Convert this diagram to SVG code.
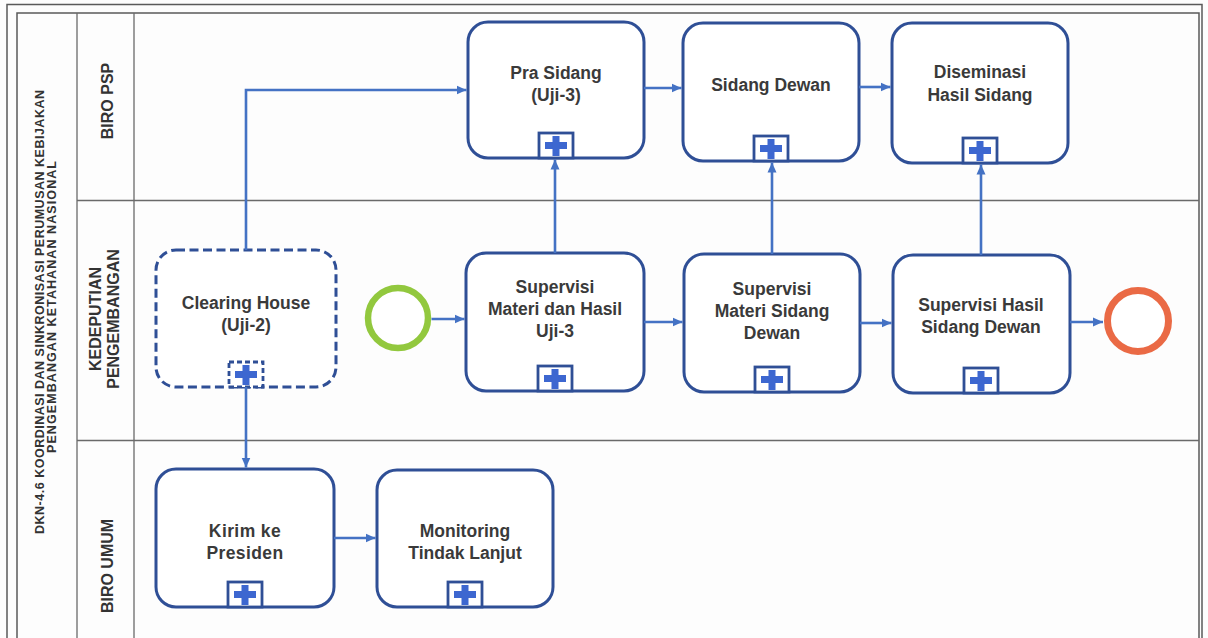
<svg xmlns="http://www.w3.org/2000/svg" width="1208" height="638" viewBox="0 0 1208 638">
<defs>
<style>
.frame{fill:none;stroke:#5a5a5a;stroke-width:1.5}
.lane{fill:none;stroke:#6a6a6a;stroke-width:1.3}
.task{fill:#ffffff;stroke:#2f4f96;stroke-width:3}
.dash{stroke-dasharray:9 4.5}
.mk{fill:#ffffff;stroke:#2f4f96;stroke-width:2.8}
.plus{fill:#3d67d0}
.lbl{font-family:"Liberation Sans",Arial,sans-serif;font-weight:bold;font-size:17.5px;fill:#3a3a3a;text-anchor:middle}
.lane-lbl{font-family:"Liberation Sans",Arial,sans-serif;font-weight:bold;font-size:16px;fill:#333333;text-anchor:middle}
.pool-lbl{font-family:"Liberation Sans",Arial,sans-serif;font-weight:bold;font-size:12.5px;fill:#333333;text-anchor:middle}
.conn{fill:none;stroke:#4472c4;stroke-width:2.6;marker-end:url(#arr)}
</style>
<marker id="arr" markerUnits="userSpaceOnUse" markerWidth="11" markerHeight="10" refX="10" refY="5" orient="auto">
<path d="M0,0.5 L10,5 L0,9.5 z" fill="#4472c4"/>
</marker>
<g id="plusmk">
<rect class="mk" x="-17" y="-25" width="34" height="25"/>
<rect class="plus" x="-11" y="-16" width="22" height="7"/>
<rect class="plus" x="-3.5" y="-22" width="7" height="20"/>
</g>
</defs>
<rect x="0" y="0" width="1208" height="638" fill="#fdfdfd"/>

<g id="pool">
<path class="frame" d="M7,645 V4.5 H1202 V645" stroke-width="2.2"/>
<path class="frame" d="M17,645 V13 H1199 V645"/>
<line class="lane" x1="77" y1="13" x2="77" y2="645"/>
<line class="lane" x1="134" y1="13" x2="134" y2="645"/>
<line class="lane" x1="77" y1="200.5" x2="1199" y2="200.5"/>
<line class="lane" x1="77" y1="440.5" x2="1199" y2="440.5"/>
<text class="pool-lbl" transform="translate(44,312) rotate(-90)" textLength="444" lengthAdjust="spacing">DKN-4.6 KOORDINASI DAN SINKRONISASI PERUMUSAN KEBIJAKAN</text>
<text class="pool-lbl" transform="translate(56,307) rotate(-90)" textLength="292" lengthAdjust="spacing">PENGEMBANGAN KETAHANAN  NASIONAL</text>
</g>

<g id="lane-biro-psp">
<text class="lane-lbl" transform="translate(113,101) rotate(-90)">BIRO PSP</text>
</g>
<g id="lane-kedeputian">
<text class="lane-lbl" transform="translate(101,319) rotate(-90)">KEDEPUTIAN</text>
<text class="lane-lbl" transform="translate(119,319) rotate(-90)">PENGEMBANGAN</text>
</g>
<g id="lane-biro-umum">
<text class="lane-lbl" transform="translate(113,566) rotate(-90)">BIRO UMUM</text>
</g>

<g id="pra-sidang">
<rect class="task" x="468" y="22" width="176" height="136" rx="20"/>
<text class="lbl" x="556" y="79">Pra Sidang</text>
<text class="lbl" x="556" y="101">(Uji-3)</text>
<use href="#plusmk" x="556" y="158"/>
</g>
<g id="sidang-dewan">
<rect class="task" x="683" y="23" width="176" height="138" rx="20"/>
<text class="lbl" x="771" y="91">Sidang Dewan</text>
<use href="#plusmk" x="771" y="161"/>
</g>
<g id="diseminasi">
<rect class="task" x="892" y="23" width="176" height="140" rx="20"/>
<text class="lbl" x="980" y="78">Diseminasi</text>
<text class="lbl" x="980" y="101">Hasil Sidang</text>
<use href="#plusmk" x="980" y="163"/>
</g>

<g id="clearing-house">
<rect class="task dash" x="156" y="250" width="180" height="137" rx="20"/>
<text class="lbl" x="246" y="309">Clearing House</text>
<text class="lbl" x="246" y="331">(Uji-2)</text>
<rect class="mk dash" x="229" y="362" width="34" height="25" style="stroke-dasharray:5 3"/>
<rect class="plus" x="235" y="371" width="22" height="7"/>
<rect class="plus" x="242.5" y="365" width="7" height="20"/>
</g>
<g id="start">
<circle cx="398" cy="318" r="30" fill="#ffffff" stroke="#92c83e" stroke-width="6.5"/>
</g>
<g id="supervisi-uji3">
<rect class="task" x="466" y="253" width="178" height="138" rx="20"/>
<text class="lbl" x="555" y="293">Supervisi</text>
<text class="lbl" x="555" y="315">Materi dan Hasil</text>
<text class="lbl" x="555" y="337">Uji-3</text>
<use href="#plusmk" x="555" y="391"/>
</g>
<g id="supervisi-materi-sidang">
<rect class="task" x="684" y="254" width="176" height="138" rx="20"/>
<text class="lbl" x="772" y="295">Supervisi</text>
<text class="lbl" x="772" y="317">Materi Sidang</text>
<text class="lbl" x="772" y="339">Dewan</text>
<use href="#plusmk" x="772" y="392"/>
</g>
<g id="supervisi-hasil-sidang">
<rect class="task" x="893" y="255" width="177" height="138" rx="20"/>
<text class="lbl" x="981" y="311">Supervisi Hasil</text>
<text class="lbl" x="981" y="333">Sidang Dewan</text>
<use href="#plusmk" x="981" y="393"/>
</g>
<g id="end">
<circle cx="1138" cy="321" r="30.5" fill="#ffffff" stroke="#ea6a45" stroke-width="7"/>
</g>

<g id="kirim-presiden">
<rect class="task" x="156" y="469" width="178" height="138" rx="20"/>
<text class="lbl" x="245" y="537" letter-spacing="0.4">Kirim  ke</text>
<text class="lbl" x="245" y="559" letter-spacing="0.4">Presiden</text>
<use href="#plusmk" x="245" y="607"/>
</g>
<g id="monitoring">
<rect class="task" x="377" y="470" width="176" height="137" rx="20"/>
<text class="lbl" x="465" y="537">Monitoring</text>
<text class="lbl" x="465" y="559">Tindak Lanjut</text>
<use href="#plusmk" x="465" y="607"/>
</g>

<g id="connectors">
<path class="conn" d="M246,250 V90 H466.5"/>
<path class="conn" d="M246,387 V467.5"/>
<path class="conn" d="M431.5,319 H464.5"/>
<path class="conn" d="M644,322 H682.5"/>
<path class="conn" d="M860,323 H891.5"/>
<path class="conn" d="M1070,322 H1103"/>
<path class="conn" d="M555,253 V159.5"/>
<path class="conn" d="M772,254 V162.5"/>
<path class="conn" d="M981,255 V164.5"/>
<path class="conn" d="M644,88 H681.5"/>
<path class="conn" d="M859,87 H890.5"/>
<path class="conn" d="M334,538 H375.5"/>
</g>
</svg>
